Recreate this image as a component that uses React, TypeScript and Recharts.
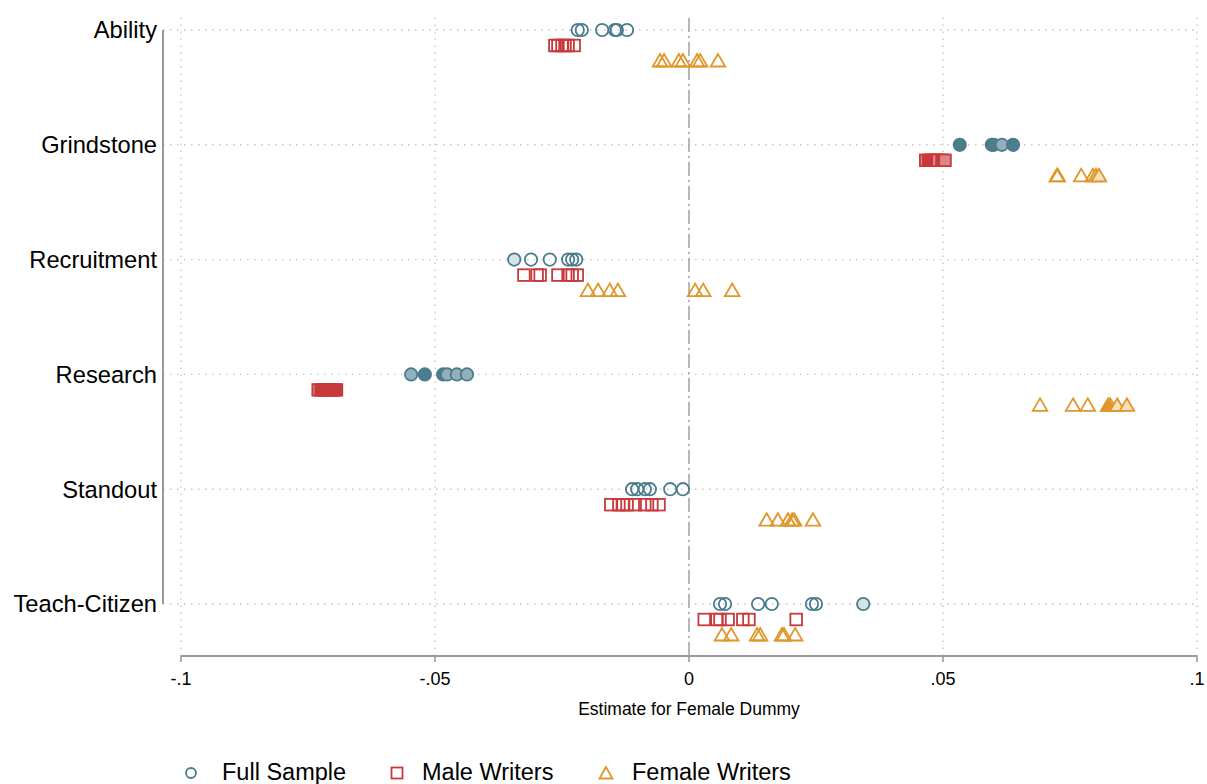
import React from 'react';
import { ScatterChart, Scatter, XAxis, YAxis, ReferenceLine } from 'recharts';

const categories = ['Ability', 'Grindstone', 'Recruitment', 'Research', 'Standout', 'Teach-Citizen'];
const categoryTicks = [0, 1, 2, 3, 4, 5];
const xTicks = [-0.1, -0.05, 0, 0.05, 0.1];
const xTickLabels = ['-.1', '-.05', '0', '.05', '.1'];

// estimates per category (rows follow `categories`)
const fullSample = [
  [-0.0219, -0.0211, -0.0171, -0.0146, -0.0142, -0.0122],
  [0.0533, 0.0596, 0.06, 0.0616, 0.0638],
  [-0.0344, -0.0311, -0.0274, -0.0238, -0.023, -0.0222],
  [-0.0547, -0.052, -0.0484, -0.0476, -0.0457, -0.0437],
  [-0.0112, -0.0102, -0.0087, -0.0077, -0.0037, -0.0012],
  [0.0061, 0.0071, 0.0136, 0.0163, 0.0242, 0.025, 0.0343],
];
// significance level: 0 none, 1 weak, 2 medium, 3 strong
const fullSampleSig = [
  [0, 0, 0, 0, 0, 0],
  [3, 3, 3, 2, 3],
  [1, 0, 0, 0, 0, 0],
  [2, 3, 3, 2, 2, 2],
  [0, 0, 0, 0, 0, 0],
  [0, 0, 0, 0, 0, 0, 1],
];

const maleWriters = [
  [-0.0264, -0.0258, -0.025, -0.0244, -0.0238, -0.0226],
  [0.0466, 0.0472, 0.0478, 0.0484, 0.049, 0.0498, 0.0504],
  [-0.0325, -0.0299, -0.0293, -0.0258, -0.0238, -0.023, -0.022],
  [-0.073, -0.0724, -0.0718, -0.0712, -0.0706, -0.0699, -0.0694],
  [-0.0154, -0.0138, -0.013, -0.0122, -0.0106, -0.0087, -0.0073, -0.0059],
  [0.003, 0.0055, 0.0061, 0.0077, 0.0106, 0.0118, 0.0211],
];
const maleWritersSig = [
  [0, 0, 0, 0, 0, 0],
  [2, 3, 3, 3, 2, 3, 2],
  [0, 0, 0, 0, 0, 0, 0],
  [2, 3, 3, 3, 3, 3, 3],
  [0, 0, 0, 0, 0, 0, 0, 0],
  [0, 0, 0, 0, 0, 0, 0],
];

const femaleWriters = [
  [-0.0057, -0.0049, -0.002, -0.0012, 0.0016, 0.0022, 0.0057],
  [0.0724, 0.0726, 0.0772, 0.0795, 0.0801, 0.0807],
  [-0.0199, -0.0179, -0.0156, -0.014, 0.0012, 0.0028, 0.0085],
  [0.0691, 0.0756, 0.0785, 0.0825, 0.0829, 0.0843, 0.0862],
  [0.0153, 0.0175, 0.0195, 0.0203, 0.0207, 0.0244],
  [0.0065, 0.0083, 0.0134, 0.014, 0.0183, 0.0187, 0.0209],
];
const femaleWritersSig = [
  [0, 0, 0, 0, 0, 0, 0],
  [0, 0, 0, 0, 2, 1],
  [0, 0, 0, 0, 0, 0, 0],
  [0, 0, 0, 3, 0, 1, 1],
  [0, 0, 0, 0, 0, 0],
  [0, 0, 0, 0, 0, 0, 0],
];

const TEAL = '#4a7c8c';
const RED = '#c8393b';
const ORANGE = '#e0962a';
const tealFills = ['none', '#d6e3e7', '#93b0ba', '#4b7d8d'];
const redFills = ['none', '#f0c4c4', '#dc8788', '#c8393b'];
const orangeFills = ['none', '#f6e0bc', '#ebbb6c', '#e0962a'];

const FONT = '"Liberation Sans", Arial, Helvetica, sans-serif';
const X_MIN = -0.1 - 18 / 5080;
const Y_MIN = -0.1394;
const Y_MAX = 5.453;
const GRID = { stroke: '#c4c4c4', strokeWidth: 1.4, strokeDasharray: '1.5 5.5' };

function buildPoints(est: number[][], sig: number[][], offset: number) {
  return est.flatMap((row, i) => row.map((x, j) => ({ x, y: i + offset, sig: sig[i][j] })));
}

const fullData = buildPoints(fullSample, fullSampleSig, 0);
const maleData = buildPoints(maleWriters, maleWritersSig, 0.135);
const femaleData = buildPoints(femaleWriters, femaleWritersSig, 0.27);

const CircleMark = (props: any) => {
  const { cx, cy, payload } = props;
  return <circle cx={cx} cy={cy} r={6.2} fill={tealFills[payload.sig]} stroke={TEAL} strokeWidth={1.8} />;
};
const SquareMark = (props: any) => {
  const { cx, cy, payload } = props;
  return <rect x={cx - 5.8} y={cy - 5.8} width={11.6} height={11.6} fill={redFills[payload.sig]} stroke={RED} strokeWidth={1.8} />;
};
const TriangleMark = (props: any) => {
  const { cx, cy, payload } = props;
  const pts = `${cx},${cy - 7} ${cx - 7.3},${cy + 5.5} ${cx + 7.3},${cy + 5.5}`;
  return <polygon points={pts} fill={orangeFills[payload.sig]} stroke={ORANGE} strokeWidth={1.8} strokeLinejoin="miter" />;
};

export default function App() {
  return (
    <div style={{ position: 'absolute', left: 0, top: 0, width: 1207, height: 784, background: '#fff', fontFamily: FONT }}>
      <ScatterChart width={1207} height={784} margin={{ top: 14, right: 10, left: 0, bottom: 58 }}>
        <XAxis
          type="number"
          dataKey="x"
          domain={[X_MIN, 0.1]}
          allowDataOverflow
          ticks={xTicks}
          tickFormatter={(v: number) => xTickLabels[xTicks.indexOf(v)] ?? String(v)}
          axisLine={false}
          tickLine={{ stroke: '#9a9a9a', strokeWidth: 1.6 }}
          tickSize={6}
          tickMargin={10}
          height={70}
          tick={{ fill: '#000', fontSize: 18, fontFamily: FONT }}
        />
        <YAxis
          type="number"
          dataKey="y"
          domain={[Y_MIN, Y_MAX]}
          allowDataOverflow
          reversed
          ticks={categoryTicks}
          interval={0}
          tickFormatter={(v: number) => categories[v] ?? ''}
          axisLine={false}
          tickLine={false}
          tickSize={0}
          tickMargin={6}
          width={163}
          tick={{ fill: '#000', fontSize: 23.7, fontFamily: FONT }}
        />
        {categoryTicks.map((t) => (
          <ReferenceLine key={`h${t}`} y={t} {...GRID} />
        ))}
        {xTicks.filter((t) => t !== 0).map((t) => (
          <ReferenceLine key={`v${t}`} x={t} {...GRID} />
        ))}
        <ReferenceLine x={0} stroke="#a6a6a6" strokeWidth={1.6} strokeDasharray="14 4 2 4" />
        <ReferenceLine
          segment={[{ x: X_MIN, y: 0 }, { x: X_MIN, y: 5 }]}
          stroke="#9a9a9a"
          strokeWidth={2}
          ifOverflow="visible"
        />
        <ReferenceLine
          segment={[{ x: -0.1, y: Y_MAX }, { x: 0.1, y: Y_MAX }]}
          stroke="#9a9a9a"
          strokeWidth={2}
          ifOverflow="visible"
        />
        <Scatter name="Full Sample" data={fullData} shape={CircleMark} isAnimationActive={false} />
        <Scatter name="Male Writers" data={maleData} shape={SquareMark} isAnimationActive={false} />
        <Scatter name="Female Writers" data={femaleData} shape={TriangleMark} isAnimationActive={false} />
      </ScatterChart>
      <svg width={1207} height={784} style={{ position: 'absolute', left: 0, top: 0, pointerEvents: 'none' }}>
        <text x={689} y={715} textAnchor="middle" fontSize={17.5} fontFamily={FONT} fill="#000">
          Estimate for Female Dummy
        </text>
        <circle cx={191} cy={773} r={5} fill="none" stroke={TEAL} strokeWidth={1.8} />
        <text x={222} y={780} fontSize={23.5} fontFamily={FONT} fill="#000">Full Sample</text>
        <rect x={391.5} y={767.5} width={11} height={11} fill="none" stroke={RED} strokeWidth={1.8} />
        <text x={422} y={780} fontSize={23.5} fontFamily={FONT} fill="#000">Male Writers</text>
        <polygon points="606,767 599.5,778.5 612.5,778.5" fill="none" stroke={ORANGE} strokeWidth={1.8} />
        <text x={632} y={780} fontSize={23.5} fontFamily={FONT} fill="#000">Female Writers</text>
      </svg>
    </div>
  );
}
